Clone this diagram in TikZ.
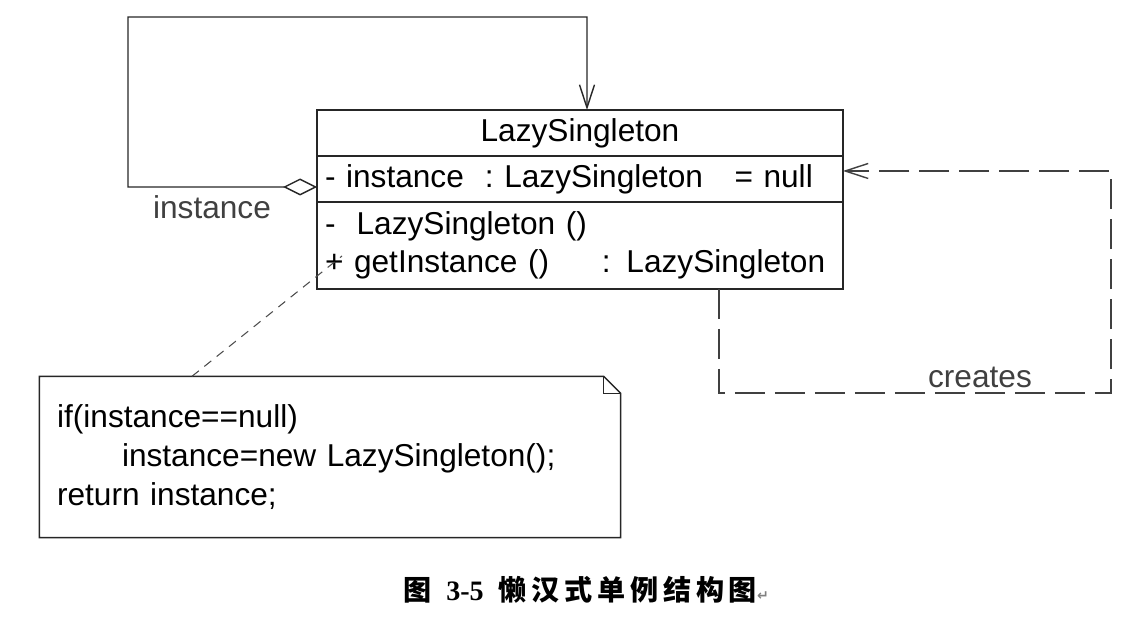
\documentclass[tikz,border=0pt]{standalone}
\usepackage{fontspec}
\setmainfont{Liberation Sans}
\newfontfamily\cjkfont[LetterSpace=17]{Noto Sans CJK SC}
\newfontfamily\capfont{Liberation Serif}
\newfontfamily\markfont{DejaVu Sans}
\usepackage{xcolor}
\usepackage{tikz}
\usetikzlibrary{arrows.meta, positioning}

\begin{document}
\begin{tikzpicture}[x=0.02cm, y=0.02cm, line width=0.8pt,
  every node/.style={font=\fontsize{18}{22}\selectfont},
  row/.style={draw=black!85, outer sep=0pt, text width=10.2cm, inner xsep=0.16cm, align=left},
  notebox/.style={text width=10.92cm, inner xsep=0.34cm, minimum height=3.2cm, align=left},
  assoc/.style={draw=black!85, {Diamond[open, length=0.68cm, width=0.34cm]}-{Straight Barb[length=0.46cm, width=0.3cm]}},
  creates/.style={draw=black!75, dash pattern=on 0.6cm off 0.2cm, -{Straight Barb[length=0.46cm, width=0.3cm]}},
  notelink/.style={draw=black!70, line width=0.6pt, dash pattern=on 5pt off 4pt},
  lbl/.style={text=black!75}]
\useasboundingbox (0,0) rectangle (1144,624);
% Clase
\node[row, align=center, minimum height=0.92cm] (title) at (580,491) {LazySingleton};
\node[row, minimum height=0.92cm, below=0pt of title] (attr) {-\ instance\ \ :\ LazySingleton\ \ \ =\ null};
\node[row, minimum height=1.74cm, below=0pt of attr] (meth) {-\ \ LazySingleton ()\\+ getInstance ()\quad\ \ : LazySingleton};
% Nota
\node[notebox] (note) at (330,167) {if(instance==null)\\\hspace*{1.3cm}instance=new LazySingleton();\\return instance;};
\draw[draw=black!85] (note.north west) -- ([xshift=-0.34cm]note.north east) -- ([yshift=-0.34cm]note.north east)
  -- (note.south east) -- (note.south west) -- cycle;
\draw[draw=black!85] ([xshift=-0.34cm]note.north east) -- ([xshift=-0.34cm, yshift=-0.34cm]note.north east) -- ([yshift=-0.34cm]note.north east);
% Conexiones
\coordinate (loopL) at (128,607);
\coordinate (loopR) at (587,607);
\coordinate (crR) at (1111,231);
\coordinate (plus) at (342,368);
\draw[assoc] ([yshift=-0.16cm]attr.west) -| (loopL) -- (loopR) -- ([xshift=0.14cm]title.north);
\node[lbl] (inst) at (212,417) {instance};
\draw[creates] ([xshift=2.78cm]meth.south) |- (crR) |- ([yshift=0.16cm]attr.east);
\node[lbl] (cr) at (980,247) {creates};
\draw[notelink] ([xshift=-2.76cm]note.north) -- (plus);
% Titulo
\node[font=\fontsize{16}{18}\selectfont] (cap) at (586,34) {\bfseries\cjkfont 图\hspace{0.3cm}\capfont 3-5\hspace{0.3cm}\cjkfont 懒汉式单例结构图{\markfont\fontsize{8}{8}\selectfont\color{black!50}↵}};
\end{tikzpicture}
\end{document}
